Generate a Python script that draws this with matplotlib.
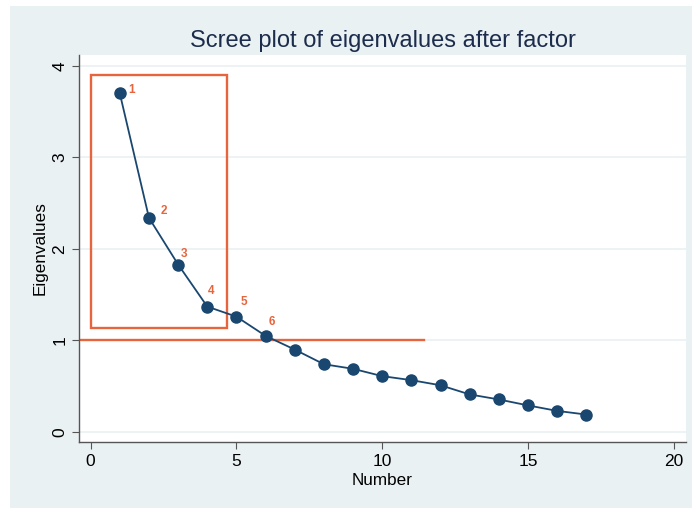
import matplotlib.pyplot as plt
from matplotlib.patches import Rectangle

# eigenvalues
numbers = list(range(1, 18))
eigenvalues = [3.70, 2.34, 1.83, 1.37, 1.26, 1.05, 0.90, 0.74, 0.69,
               0.61, 0.566, 0.51, 0.41, 0.355, 0.29, 0.23, 0.19]
labelled = [1, 2, 3, 4, 5, 6]
x_ticks = [0, 5, 10, 15, 20]
y_ticks = [0, 1, 2, 3, 4]

# pixel offsets of the point labels (like stata mlabposition)
label_offsets = [(12, 3), (15, 7), (6, 11), (4, 16), (8, 15), (6, 14)]

navy = "#1a476f"
orange = "#e8643c"
bg = "#eaf1f3"

plt.rcParams['font.family'] = ['Liberation Sans', 'DejaVu Sans']

fig = plt.figure(figsize=(6.92, 5.08), dpi=100)
fig.patches.append(Rectangle((10 / 692, 0), 1, 1 - 6 / 508, transform=fig.transFigure,
                             facecolor=bg, edgecolor="none", zorder=-10))
ax = fig.add_axes([79 / 692, 1 - 442 / 508, (686 - 79) / 692, (442 - 55) / 508])
ax.set_facecolor("white")

ax.plot(numbers, eigenvalues, "-", color=navy, linewidth=1.3, zorder=3)
ax.plot(numbers, eigenvalues, "o", color=navy, markersize=8, zorder=4)

for n, off in zip(labelled, label_offsets):
    ax.annotate(str(n), (n, eigenvalues[n - 1]), xytext=off, textcoords="offset pixels",
                ha="center", va="center", color=orange, fontsize=8.5, fontweight="bold", zorder=5)

# highlight box and cut-off line
ax.add_patch(Rectangle((0.02, 1.14), 4.64, 2.76, fill=False, edgecolor=orange,
                       linewidth=1.7, zorder=2))
ax.plot([-0.4, 11.45], [1, 1], "-", color=orange, linewidth=1.7, zorder=2)

ax.set_xlim(-0.4, 20.42)
ax.set_ylim(-0.11, 4.12)
ax.set_xticks(x_ticks)
ax.set_yticks(y_ticks)
ax.set_yticklabels([str(t) for t in y_ticks], rotation=90, va="center")
ax.grid(axis="y", color=bg, linewidth=1.2)
ax.set_axisbelow(True)
for s in ["top", "right"]:
    ax.spines[s].set_visible(False)
for s in ["left", "bottom"]:
    ax.spines[s].set_color("#555555")
    ax.spines[s].set_linewidth(1.0)
ax.tick_params(colors="#555555", labelcolor="black", labelsize=12.5, length=5)

ax.set_xlabel("Number", fontsize=12.3, labelpad=3)
ax.set_ylabel("Eigenvalues", fontsize=12.3, labelpad=3)
ax.set_title("Scree plot of eigenvalues after factor", fontsize=17, color="#1c2c4c", pad=6)

fig.savefig("out.png", dpi=100)
